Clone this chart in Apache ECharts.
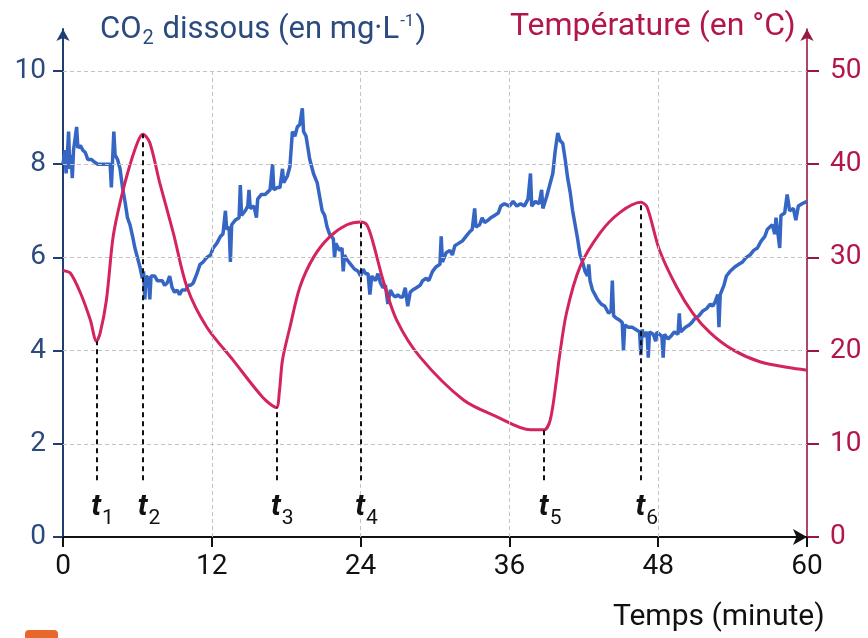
<!DOCTYPE html>
<html>
<head>
<meta charset="utf-8">
<script src="https://cdn.jsdelivr.net/npm/echarts@6/dist/echarts.min.js"></script>
<style>
  html, body { margin: 0; padding: 0; background: #fff; }
  #chart { width: 868px; height: 638px; }
</style>
</head>
<body>
<div id="chart"></div>
<script>
// ticks
const timeTicks = [0, 12, 24, 36, 48, 60];
const co2Ticks = [0, 2, 4, 6, 8, 10];
const tempTicks = [0, 10, 20, 30, 40, 50];

// temperature (°C) vs time (minute)
const temperature = [
    [0, 28.6], [0.6, 28.3], [1.4, 26.2], [2.2, 23.3], [2.7, 21.0], [3.0, 21.9], [3.5, 25.4],
    [4.0, 31.8], [4.4, 34.7], [5.2, 39.0], [6.0, 42.3], [6.45, 43.2], [7.0, 42.3], [7.8, 38.0],
    [8.9, 32.6], [10.0, 26.8], [11.6, 22.5], [13.7, 19.0], [16.1, 15.0], [17.2, 13.9],
    [17.45, 15.6], [17.7, 19.0], [18.3, 22.5], [19.1, 26.8], [20.2, 30.0], [21.5, 32.2],
    [22.9, 33.5], [24.0, 33.8], [24.5, 33.5], [25.0, 31.6], [25.8, 27.6], [26.9, 23.3],
    [28.8, 19.3], [32.3, 14.7], [35.0, 12.9], [37.7, 11.5], [38.8, 11.5], [39.3, 12.6],
    [39.8, 16.9], [40.0, 19.0], [40.6, 24.0], [41.7, 29.0], [43.3, 32.6], [44.9, 34.8],
    [46.6, 35.9], [47.1, 35.4], [48.1, 30.8], [49.5, 26.8], [50.8, 24.0], [52.2, 21.9],
    [54.0, 20.1], [56.2, 18.8], [58.9, 18.1], [60, 17.9]
];

// dissolved CO2 (mg/L) vs time (minute), noisy probe record
const co2 = [
    [0.0, 8.0], [0.15, 8.3], [0.25, 7.8], [0.35, 8.2], [0.45, 8.7], [0.55, 7.9], [0.65, 8.2],
    [0.75, 7.7], [0.85, 8.3], [1.0, 8.3], [1.1, 8.8], [1.2, 8.35], [1.4, 8.4], [1.6, 8.3],
    [1.8, 8.25], [2.0, 8.1], [2.3, 8.1], [2.5, 8.05], [2.8, 8.0], [3.2, 8.0], [3.6, 8.0],
    [3.8, 8.0], [3.9, 7.5], [4.0, 8.1], [4.1, 8.7], [4.2, 8.2], [4.4, 8.1], [4.6, 7.9],
    [4.8, 7.5], [5.0, 7.2], [5.2, 6.85], [5.4, 6.7], [5.65, 6.4], [5.8, 6.2], [6.0, 6.0],
    [6.2, 5.8], [6.4, 5.55], [6.5, 5.7], [6.6, 5.1], [6.7, 5.6], [6.9, 5.55], [7.0, 5.1],
    [7.1, 5.6], [7.4, 5.6], [7.6, 5.5], [7.8, 5.5], [8.0, 5.5], [8.2, 5.4], [8.4, 5.45],
    [8.6, 5.6], [8.8, 5.35], [9.0, 5.25], [9.2, 5.3], [9.4, 5.2], [9.6, 5.3], [9.9, 5.3],
    [10.1, 5.4], [10.3, 5.4], [10.5, 5.45], [10.8, 5.65], [11.05, 5.85], [11.3, 5.9],
    [11.6, 6.0], [11.9, 6.05], [12.1, 6.2], [12.4, 6.3], [12.7, 6.45], [12.9, 6.5],
    [13.1, 7.0], [13.2, 6.6], [13.4, 6.65], [13.5, 5.9], [13.6, 6.7], [13.9, 6.8],
    [14.2, 6.85], [14.3, 7.55], [14.4, 6.9], [14.7, 7.0], [14.9, 7.1], [15.0, 7.45],
    [15.1, 7.05], [15.4, 7.1], [15.6, 6.85], [15.7, 7.25], [16.0, 7.35], [16.3, 7.35],
    [16.5, 7.4], [16.7, 7.45], [16.9, 8.0], [17.0, 7.45], [17.3, 7.5], [17.5, 7.5],
    [17.7, 7.9], [17.8, 7.6], [18.1, 7.75], [18.3, 7.95], [18.5, 8.7], [18.7, 8.6],
    [18.9, 8.8], [19.1, 8.85], [19.3, 9.2], [19.4, 8.7], [19.6, 8.6], [19.9, 8.1],
    [20.2, 7.8], [20.5, 7.6], [20.7, 7.3], [20.9, 7.0], [21.1, 6.9], [21.3, 6.65],
    [21.5, 6.5], [21.8, 6.4], [21.9, 6.0], [22.0, 6.3], [22.3, 6.15], [22.5, 6.2],
    [22.6, 5.7], [22.7, 6.05], [22.9, 5.95], [23.2, 5.85], [23.5, 5.75], [23.8, 5.7],
    [24.0, 5.6], [24.2, 5.75], [24.4, 5.65], [24.6, 5.65], [24.75, 5.2], [24.9, 5.6],
    [25.2, 5.5], [25.4, 5.65], [25.6, 5.45], [25.8, 5.35], [26.0, 5.4], [26.2, 5.0],
    [26.4, 5.3], [26.6, 5.2], [26.8, 5.15], [27.0, 5.2], [27.2, 5.15], [27.4, 5.15],
    [27.6, 5.35], [27.8, 4.95], [28.0, 5.25], [28.2, 5.3], [28.5, 5.35], [28.8, 5.4],
    [29.0, 5.5], [29.3, 5.55], [29.5, 5.5], [29.8, 5.7], [30.1, 5.8], [30.4, 5.85],
    [30.5, 6.45], [30.6, 5.9], [30.9, 6.1], [31.2, 6.15], [31.4, 6.05], [31.6, 6.25],
    [31.9, 6.3], [32.2, 6.35], [32.5, 6.45], [32.8, 6.55], [33.0, 6.6], [33.2, 7.05],
    [33.3, 6.65], [33.6, 6.7], [33.8, 6.85], [34.0, 6.75], [34.3, 6.8], [34.5, 6.85],
    [34.8, 6.9], [35.1, 6.95], [35.3, 7.1], [35.6, 7.15], [36.0, 7.1], [36.3, 7.2],
    [36.6, 7.1], [36.9, 7.15], [37.2, 7.1], [37.5, 7.25], [37.7, 7.8], [37.8, 7.1],
    [38.1, 7.2], [38.4, 7.15], [38.6, 7.45], [38.7, 7.05], [39.0, 7.3], [39.3, 7.6],
    [39.5, 7.8], [39.7, 8.3], [39.9, 8.67], [40.1, 8.5], [40.3, 8.45], [40.5, 8.1],
    [40.7, 7.7], [40.9, 7.4], [41.1, 7.0], [41.3, 6.7], [41.5, 6.4], [41.7, 6.05],
    [41.9, 5.9], [42.1, 5.7], [42.3, 5.6], [42.4, 5.85], [42.5, 5.5], [42.7, 5.3],
    [42.9, 5.2], [43.1, 5.1], [43.4, 5.0], [43.7, 4.95], [44.0, 4.8], [44.2, 4.85],
    [44.3, 5.5], [44.4, 4.75], [44.6, 4.7], [44.9, 4.65], [45.1, 4.6], [45.2, 4.0],
    [45.3, 4.55], [45.6, 4.5], [45.9, 4.5], [46.2, 4.45], [46.5, 4.4], [46.6, 3.9],
    [46.7, 4.45], [46.9, 4.3], [47.1, 4.4], [47.2, 3.85], [47.3, 4.4], [47.6, 4.35],
    [47.8, 4.2], [47.9, 4.4], [48.1, 4.35], [48.3, 4.3], [48.4, 3.85], [48.5, 4.35],
    [48.8, 4.25], [49.0, 4.3], [49.3, 4.4], [49.6, 4.35], [49.7, 4.8], [49.8, 4.4],
    [50.0, 4.45], [50.2, 4.5], [50.5, 4.55], [50.7, 4.6], [51.0, 4.7], [51.3, 4.75],
    [51.6, 4.85], [51.9, 4.9], [52.2, 5.0], [52.4, 4.95], [52.6, 5.05], [52.8, 5.2],
    [52.9, 4.5], [53.0, 5.2], [53.3, 5.4], [53.5, 5.6], [53.8, 5.7], [54.0, 5.75],
    [54.2, 5.8], [54.5, 5.85], [54.8, 5.9], [55.1, 6.0], [55.4, 6.05], [55.7, 6.15],
    [56.0, 6.2], [56.3, 6.35], [56.6, 6.45], [56.8, 6.6], [57.0, 6.65], [57.2, 6.7],
    [57.4, 6.5], [57.5, 6.85], [57.8, 6.2], [57.9, 6.9], [58.2, 6.95], [58.4, 7.35],
    [58.6, 7.0], [58.9, 7.05], [59.1, 6.8], [59.3, 7.1], [59.6, 7.15], [60.0, 7.2]
];

// instants t1..t6 (minute) and the temperature where each dashed line starts
const markNames = ['1', '2', '3', '4', '5', '6'];
const markTimes = [2.7, 6.45, 17.2, 24, 38.8, 46.6];
const markTemps = [21.0, 43.2, 13.9, 33.8, 11.5, 35.9];
const markFloor = 6.1; // °C, lower end of the dashed lines

const FONT = 'Roboto';
const BLUE_TXT = '#2b4a7d';
const RED_TXT = '#b3164a';

const gridLines = [];
co2Ticks.slice(1).forEach(v => gridLines.push({ yAxis: v }));
timeTicks.slice(1, -1).forEach(v => gridLines.push([{ coord: [v, 0] }, { coord: [v, 10] }]));

const tLines = markTimes.map((t, i) => [
    {
        coord: [t, markFloor],
        label: { formatter: '{t|t}{s|' + markNames[i] + '}' }
    },
    { coord: [t, markTemps[i]] }
]);

const option = {
    animation: false,
    backgroundColor: '#fff',
    title: [
        {
            text: '{a|CO}{sub|2}{a| dissous (en mg·L}{sup|-1}{a|)}',
            left: 95, top: 6,
            textStyle: {
                rich: {
                    a: { fontFamily: FONT, fontSize: 31, fontWeight: 'normal', color: BLUE_TXT },
                    sub: { fontFamily: FONT, fontSize: 20, fontWeight: 'normal', color: BLUE_TXT, padding: [18, 1, 0, 1] },
                    sup: { fontFamily: FONT, fontSize: 17, fontWeight: 'normal', color: BLUE_TXT, padding: [0, 1, 16, 1] }
                }
            }
        },
        {
            text: 'Température (en °C)',
            left: 505, top: 6,
            textStyle: { fontFamily: FONT, fontSize: 32, fontWeight: 'normal', color: RED_TXT }
        },
        {
            text: 'Temps (minute)',
            left: 608, top: 597,
            textStyle: { fontFamily: FONT, fontSize: 30, fontWeight: 'normal', color: '#111' }
        }
    ],
    grid: { left: 63, right: 61, top: 29, bottom: 101 },
    xAxis: {
        type: 'value',
        min: 0, max: 60, interval: 12,
        axisLine: {
            lineStyle: { color: '#111', width: 2 },
            symbol: ['none', 'arrow'], symbolSize: [12, 14]
        },
        axisTick: { show: true, length: 10, lineStyle: { color: '#111', width: 2 } },
        axisLabel: { fontFamily: FONT, fontSize: 28, color: '#111', margin: 16 },
        splitLine: { show: false }
    },
    yAxis: [
        {
            type: 'value',
            min: 0, max: 10.9,
            axisLine: {
                show: true, onZero: false,
                lineStyle: { color: '#1f3f73', width: 2 },
                symbol: ['none', 'arrow'], symbolSize: [10, 12]
            },
            axisTick: { show: true, length: 10, customValues: co2Ticks, lineStyle: { color: '#1f3f73', width: 2 } },
            axisLabel: { fontFamily: FONT, fontSize: 28, color: BLUE_TXT, margin: 17, customValues: co2Ticks },
            splitLine: { show: false }
        },
        {
            type: 'value',
            min: 0, max: 54.5,
            position: 'right',
            axisLine: {
                show: true, onZero: false,
                lineStyle: { color: '#98183e', width: 1.6 },
                symbol: ['none', 'arrow'], symbolSize: [10, 12]
            },
            axisTick: { show: true, length: 12, customValues: tempTicks, lineStyle: { color: '#98183e', width: 2 } },
            axisLabel: { fontFamily: FONT, fontSize: 28, color: RED_TXT, margin: 23, customValues: tempTicks },
            splitLine: { show: false }
        }
    ],
    series: [
        {
            // dashed grid
            type: 'line',
            data: [],
            silent: true,
            z: 1,
            markLine: {
                silent: true,
                symbol: 'none',
                label: { show: false },
                lineStyle: { color: '#c4c4c4', width: 1, type: [4, 3] },
                data: gridLines
            }
        },
        {
            name: 'CO2',
            type: 'line',
            data: co2,
            yAxisIndex: 0,
            showSymbol: false,
            z: 3,
            lineStyle: { color: '#3566c4', width: 3.5 }
        },
        {
            name: 'Température',
            type: 'line',
            data: temperature,
            yAxisIndex: 1,
            showSymbol: false,
            smooth: 0.3,
            z: 4,
            lineStyle: { color: '#d4245c', width: 3 },
            markLine: {
                silent: true,
                symbol: 'none',
                lineStyle: { color: '#111', width: 2, type: [5, 4] },
                label: {
                    show: true,
                    position: 'start',
                    distance: 6,
                    padding: [0, 0, 0, 12],
                    rich: {
                        t: { fontFamily: FONT, fontSize: 30, fontWeight: 'bold', fontStyle: 'italic', color: '#111' },
                        s: { fontFamily: FONT, fontSize: 21, color: '#111', padding: [22, 0, 0, 1] }
                    }
                },
                data: tLines
            }
        }
    ],
    graphic: [
        {
            type: 'rect',
            shape: { x: 25, y: 630, width: 33, height: 14, r: 4 },
            style: { fill: '#e8672a' }
        }
    ]
};

const chart = echarts.init(document.getElementById('chart'));
chart.setOption(option);
</script>
</body>
</html>
